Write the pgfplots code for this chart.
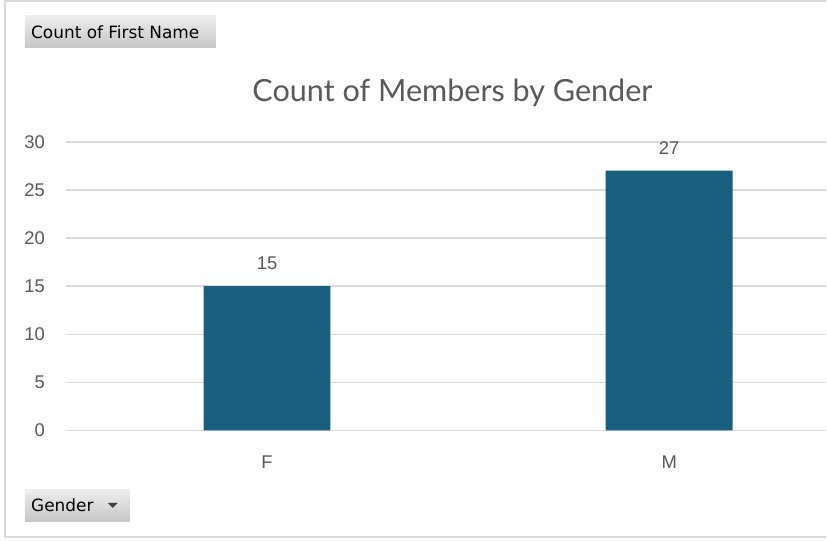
\documentclass[border=0pt]{standalone}
\usepackage{fontspec}
\setmainfont{Liberation Sans}
\newfontfamily\titlefont{Lato}
\newfontfamily\btnfont{DejaVu Sans}
\usepackage{pgfplots}
\pgfplotsset{compat=1.18}
\definecolor{barc}{HTML}{185F80}
\definecolor{txt}{HTML}{595959}
\definecolor{gridc}{HTML}{D9D9D9}
\definecolor{btntop}{HTML}{EEEEEE}
\definecolor{btnbot}{HTML}{C6C6C6}
\begin{document}
\begin{tikzpicture}[x=1bp,y=1bp]
\path[fill=white] (0,0) rectangle (827,541);
\draw[gridc,line width=2bp] (827,539.5) -- (5,539.5) -- (5,3) -- (827,3);
\begin{axis}[
  at={(66bp,110bp)}, anchor=south west,
  scale only axis, width=761bp, height=289bp,
  xmin=-0.5, xmax=1.39, ymin=0, ymax=30,
  axis lines=left, axis line style={draw=none},
  major tick length=0pt, tick style={draw=none},
  ytick={0,5,...,30}, xtick={0,1}, xticklabels={F,M},
  ymajorgrids=true, xmajorgrids=false,
  y grid style={draw=gridc, line width=1.5bp},
  clip=false,
  ybar, bar width=127bp,
  tick label style={font=\fontsize{18.5}{20}\selectfont, text=txt},
  /pgf/number format/assume math mode=true,
  yticklabel style={anchor=east, inner sep=0pt, xshift=-21bp},
  xticklabel style={anchor=center, inner sep=0pt, yshift=-32bp},
  nodes near coords,
  nodes near coords style={font=\fontsize{18.5}{20}\selectfont, text=txt, anchor=center, inner sep=0pt, yshift=23bp},
]
\addplot[fill=barc, draw=none] coordinates {(0,15) (1,27)};
\end{axis}
\node[font=\titlefont\fontsize{30.7}{34}\selectfont, text=txt] at (453,448) {Count of Members by Gender};
% buttons
\shade[top color=btntop, bottom color=btnbot] (25,493) rectangle (216,525);
\node[anchor=west, inner sep=0pt, font=\btnfont\fontsize{17}{18}\selectfont, text=black] at (31,509) {Count of First Name};
\shade[top color=btntop, bottom color=btnbot] (25,19) rectangle (130,51);
\node[anchor=west, inner sep=0pt, font=\btnfont\fontsize{17}{18}\selectfont, text=black] at (31,35) {Gender};
\fill[black!75] (108,37.5) -- (118,37.5) -- (113,32.5) -- cycle;
\end{tikzpicture}
\end{document}
